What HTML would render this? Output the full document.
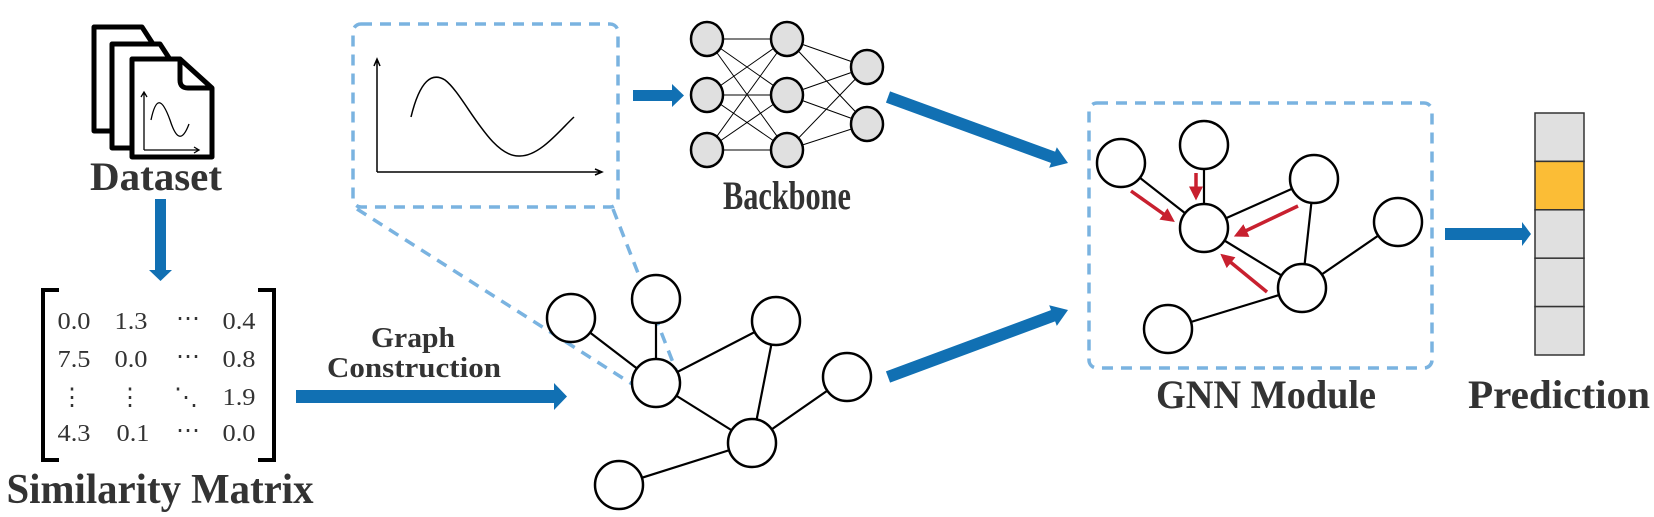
<!DOCTYPE html>
<html><head><meta charset="utf-8"><style>
html,body{margin:0;padding:0;background:#fff;}
svg{display:block;}
.lbl{font-family:"Liberation Serif","DejaVu Serif",serif;font-weight:bold;fill:#333;}
.num{font-family:"Liberation Serif","DejaVu Serif",serif;fill:#333;font-size:24px;}
</style></head><body>
<svg width="1654" height="517" viewBox="0 0 1654 517" xmlns="http://www.w3.org/2000/svg">
<defs>
<marker id="rh" markerWidth="4" markerHeight="4" refX="3" refY="2" orient="auto" markerUnits="strokeWidth"><path d="M0,0 L4,2 L0,4 z" fill="#c8202f"/></marker>
</defs>
<!-- dataset icon -->
<g stroke="#000" stroke-width="5" fill="#fff" stroke-linejoin="round">
<path d="M94,27 H142 L175,78 V131 H94 Z"/>
<path d="M112,44 H160 L193,95 V148 H112 Z"/>
<path d="M132,59 H180 L212,88 V157 H132 Z"/>
<path d="M180,59 V80 Q180,88 188,88 H212" fill="none"/>
</g>
<g stroke="#000" stroke-width="1.3" fill="none">
<path d="M144,150 V93 M141,97 L144,92 L147,97"/>
<path d="M144,150 H198 M194,147 L199,150 L194,153"/>
<path d="M151,120 C156,96 162,98 170,120 C177,142 183,140 189,124"/>
</g>
<text class="lbl" x="156" y="190" font-size="40" text-anchor="middle" textLength="132" lengthAdjust="spacingAndGlyphs">Dataset</text>
<!-- down arrow -->
<rect x="155" y="199" width="11" height="72" fill="#1170b3"/>
<path d="M149,270 L172,270 L160.5,281 Z" fill="#1170b3"/>
<!-- matrix -->
<g stroke="#000" stroke-width="4" fill="none">
<path d="M59,290 H43 V460 H59"/>
<path d="M258,290 H274 V460 H258"/>
</g>
<g class="num" text-anchor="middle">
<text x="74" y="329" textLength="33" lengthAdjust="spacingAndGlyphs">0.0</text><text x="131" y="329" textLength="33" lengthAdjust="spacingAndGlyphs">1.3</text><text x="188" y="326">⋯</text><text x="239" y="329" textLength="33" lengthAdjust="spacingAndGlyphs">0.4</text>
<text x="74" y="367" textLength="33" lengthAdjust="spacingAndGlyphs">7.5</text><text x="131" y="367" textLength="33" lengthAdjust="spacingAndGlyphs">0.0</text><text x="188" y="364">⋯</text><text x="239" y="367" textLength="33" lengthAdjust="spacingAndGlyphs">0.8</text>
<text x="72" y="405">⋮</text><text x="130" y="405">⋮</text><text x="186" y="405">⋱</text><text x="239" y="405" textLength="33" lengthAdjust="spacingAndGlyphs">1.9</text>
<text x="74" y="441" textLength="33" lengthAdjust="spacingAndGlyphs">4.3</text><text x="133" y="441" textLength="33" lengthAdjust="spacingAndGlyphs">0.1</text><text x="188" y="438">⋯</text><text x="239" y="441" textLength="33" lengthAdjust="spacingAndGlyphs">0.0</text>
</g>
<text class="lbl" x="160" y="503" font-size="42" text-anchor="middle" textLength="307" lengthAdjust="spacingAndGlyphs">Similarity Matrix</text>
<!-- graph construction arrow -->
<rect x="296" y="390" width="262" height="13" fill="#1170b3"/>
<path d="M554,383 L567,396.5 L554,410 Z" fill="#1170b3"/>
<text class="lbl" x="413" y="347" font-size="28" text-anchor="middle" textLength="84" lengthAdjust="spacingAndGlyphs">Graph</text>
<text class="lbl" x="414" y="377" font-size="28" text-anchor="middle" textLength="174" lengthAdjust="spacingAndGlyphs">Construction</text>
<!-- dashed zoom box -->
<g stroke="#7ab3e0" stroke-width="3.5" fill="none" stroke-dasharray="11,8">
<rect x="353" y="24" width="265" height="183" rx="8"/>
<path d="M357,209 L632,384"/>
<path d="M613,209 L681,383"/>
</g>
<g stroke="#000" stroke-width="1.5" fill="none">
<path d="M377,172 V61 M374,66 L377,59 L380,66"/>
<path d="M377,172 H601 M595,169 L602,172 L595,175"/>
<path d="M411,117 C420,80 432,72 445,80 C465,95 490,158 520,156 C540,156 560,130 574,117"/>
</g>
<!-- arrow to backbone -->
<rect x="633" y="90" width="40" height="11" fill="#1170b3"/>
<path d="M672,84 L684,95.5 L672,107 Z" fill="#1170b3"/>
<!-- NN -->
<g stroke="#000" stroke-width="1">
<path d="M707,39 L787,39 M707,39 L787,95 M707,39 L787,150 M707,95 L787,39 M707,95 L787,95 M707,95 L787,150 M707,150 L787,39 M707,150 L787,95 M707,150 L787,150"/>
<path d="M787,39 L867,67 M787,39 L867,124 M787,95 L867,67 M787,95 L867,124 M787,150 L867,67 M787,150 L867,124"/>
</g>
<g fill="#e0e0e0" stroke="#000" stroke-width="2.5">
<ellipse cx="707" cy="39" rx="16" ry="17"/><ellipse cx="707" cy="95" rx="16" ry="17"/><ellipse cx="707" cy="150" rx="16" ry="17"/>
<ellipse cx="787" cy="39" rx="16" ry="17"/><ellipse cx="787" cy="95" rx="16" ry="17"/><ellipse cx="787" cy="150" rx="16" ry="17"/>
<ellipse cx="867" cy="67" rx="16" ry="17"/><ellipse cx="867" cy="124" rx="16" ry="17"/>
</g>
<text class="lbl" x="787" y="209" font-size="40" text-anchor="middle" textLength="128" lengthAdjust="spacingAndGlyphs">Backbone</text>
<!-- bottom graph -->
<g stroke="#000" stroke-width="2.2">
<path d="M571,318 L656,383 M656,299 L656,383 M656,383 L776,321 M656,383 L752,443 M776,321 L752,443 M752,443 L847,377 M752,443 L619,485"/>
</g>
<g fill="#fff" stroke="#000" stroke-width="2.5">
<ellipse cx="571" cy="318" rx="24" ry="24"/><ellipse cx="656" cy="299" rx="24" ry="24"/>
<ellipse cx="656" cy="383" rx="24" ry="24"/><ellipse cx="776" cy="321" rx="24" ry="24"/>
<ellipse cx="752" cy="443" rx="24" ry="24"/><ellipse cx="619" cy="485" rx="24" ry="24"/>
<ellipse cx="847" cy="377" rx="24" ry="24"/>
</g>
<!-- arrows to GNN -->
<g stroke="#1170b3" stroke-width="12">
<path d="M888,97 L1055,158"/>
<path d="M888,377 L1055,315"/>
</g>
<g fill="#1170b3">
<path d="M1068,163 L1049.2,167.8 L1056.8,147.2 Z"/>
<path d="M1068,310 L1056.8,325.9 L1049.2,305.3 Z"/>
</g>
<!-- GNN box -->
<rect x="1089" y="103" width="343" height="265" rx="8" fill="none" stroke="#7ab3e0" stroke-width="3.5" stroke-dasharray="11,8"/>
<g stroke="#000" stroke-width="2.2">
<path d="M1121,163 L1204,228 M1204,145 L1204,228 M1204,228 L1314,179 M1204,228 L1302,288 M1314,179 L1302,288 M1302,288 L1398,222 M1302,288 L1168,329"/>
</g>
<g fill="#fff" stroke="#000" stroke-width="2.5">
<ellipse cx="1121" cy="163" rx="24" ry="24"/><ellipse cx="1204" cy="145" rx="24" ry="24"/>
<ellipse cx="1204" cy="228" rx="24" ry="24"/><ellipse cx="1314" cy="179" rx="24" ry="24"/>
<ellipse cx="1398" cy="222" rx="24" ry="24"/><ellipse cx="1302" cy="288" rx="24" ry="24"/>
<ellipse cx="1168" cy="329" rx="24" ry="24"/>
</g>
<g stroke="#c8202f" stroke-width="3.5" fill="none" marker-end="url(#rh)">
<path d="M1131,191 L1172,220"/>
<path d="M1196,173 L1196,197"/>
<path d="M1298,206 L1237,235"/>
<path d="M1267,292 L1223,256"/>
</g>
<text class="lbl" x="1266" y="408" font-size="40" text-anchor="middle" textLength="220" lengthAdjust="spacingAndGlyphs">GNN Module</text>
<!-- arrow to prediction -->
<rect x="1445" y="228" width="80" height="12" fill="#1170b3"/>
<path d="M1522,222 L1531,234 L1522,246 Z" fill="#1170b3"/>
<!-- prediction bar -->
<g stroke="#333" stroke-width="1.5">
<rect x="1535" y="113" width="49" height="48.4" fill="#e0e0e0"/>
<rect x="1535" y="161.4" width="49" height="48.4" fill="#fbbd36"/>
<rect x="1535" y="209.8" width="49" height="48.4" fill="#e0e0e0"/>
<rect x="1535" y="258.2" width="49" height="48.4" fill="#e0e0e0"/>
<rect x="1535" y="306.6" width="49" height="48.4" fill="#e0e0e0"/>
</g>
<text class="lbl" x="1559" y="408" font-size="40" text-anchor="middle" textLength="182" lengthAdjust="spacingAndGlyphs">Prediction</text>
</svg>
</body></html>
